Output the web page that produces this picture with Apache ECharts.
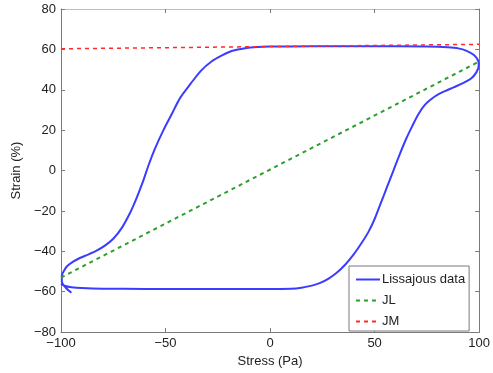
<!DOCTYPE html>
<html>
<head>
<meta charset="utf-8">
<script src="https://cdn.jsdelivr.net/npm/echarts@6/dist/echarts.min.js"></script>
<style>
  html, body { margin: 0; padding: 0; background: #fff; }
  #chart { width: 493px; height: 373px; }
</style>
</head>
<body>
<div id="chart"></div>
<script>
// stress (Pa), strain (%)
const lissajous = [
  [-95, -60.5], [-97.5, -58.3], [-99.6, -55], [-99.6, -52], [-98.5, -49.5], [-97, -47.3],
  [-94, -45], [-91, -43.3], [-87, -41.6], [-83, -39.7], [-79, -37.2], [-75, -33.8],
  [-71, -28.5], [-67, -21], [-64, -14], [-61, -6], [-58, 3], [-55, 11], [-51, 20],
  [-47, 28], [-43, 36], [-38, 43], [-33, 49.5], [-28, 54], [-23, 57], [-18, 59.3],
  [-12, 60.6], [-6, 61.2], [0, 61.4], [20, 61.5], [40, 61.5], [60, 61.5], [75, 61.4],
  [85, 61], [90, 60.5], [94, 59.3], [97.5, 57.2], [99.5, 54.5], [99.8, 52], [98.6, 48.5],
  [96, 45.5], [92, 43.2], [88, 41.3], [84, 39.5], [80, 37.5], [77, 35.3], [74, 32.5],
  [71, 28], [68, 22], [65, 15.5], [62, 8], [59, 0], [56, -8], [53, -16], [50, -24],
  [47, -30.5], [44, -35.5], [40, -41.5], [36, -46.5], [32, -50.5], [28, -53.5],
  [24, -55.6], [20, -57], [15, -58], [10, -58.5], [0, -58.7], [-20, -58.7], [-40, -58.7],
  [-60, -58.6], [-80, -58.5], [-90, -58.2], [-95, -57.8], [-98, -57.2], [-100, -56]
]
const jl = [[-100, -53], [100, 54]]
const jm = [[-100, 60.3], [100, 62.5]]

const xTicks = { min: -100, max: 100, interval: 50 }
const yTicks = { min: -80, max: 80, interval: 20 }

const font = 'Liberation Sans'
const frame = '#7a7a7a'

const chart = echarts.init(document.getElementById('chart'))

const tickIn = { show: true, inside: true, length: 4, lineStyle: { color: frame } }
const minus = v => String(v).replace('-', '\u2212')

chart.setOption({
  animation: false,
  grid: { left: 61, right: 8, top: 9, bottom: 38 },
  legend: {
    data: ['Lissajous data', 'JL', 'JM'],
    orient: 'vertical',
    left: 349,
    top: 266,
    width: 136,
    padding: [7, 4, 3, 6],
    itemGap: 8,
    itemWidth: 24,
    itemHeight: 14,
    itemStyle: { opacity: 0 },
    backgroundColor: '#fff',
    borderColor: frame,
    borderWidth: 1,
    textStyle: { fontFamily: font, fontSize: 13, color: '#222', padding: [0, 0, 0, -3] },
  },
  xAxis: [
    {
      type: 'value',
      ...xTicks,
      name: 'Stress (Pa)',
      nameLocation: 'middle',
      nameGap: 20,
      nameTextStyle: { fontFamily: font, fontSize: 13, color: '#222' },
      axisLine: { onZero: false, lineStyle: { color: frame } },
      axisTick: tickIn,
      axisLabel: { fontFamily: font, fontSize: 13, color: '#222', margin: 5, formatter: minus },
      splitLine: { show: false },
    },
    {
      type: 'value',
      position: 'top',
      ...xTicks,
      axisLine: { show: true, onZero: false, lineStyle: { color: '#bdbdbd' } },
      axisTick: tickIn,
      axisLabel: { show: false },
      splitLine: { show: false },
    },
  ],
  yAxis: [
    {
      type: 'value',
      ...yTicks,
      name: 'Strain (%)',
      nameLocation: 'middle',
      nameGap: 33,
      nameTextStyle: { fontFamily: font, fontSize: 13, color: '#222' },
      axisLine: { show: true, onZero: false, lineStyle: { color: frame } },
      axisTick: tickIn,
      axisLabel: { fontFamily: font, fontSize: 13, color: '#222', margin: 5, formatter: minus },
      splitLine: { show: false },
    },
    {
      type: 'value',
      position: 'right',
      ...yTicks,
      axisLine: { show: true, onZero: false, lineStyle: { color: frame } },
      axisTick: tickIn,
      axisLabel: { show: false },
      splitLine: { show: false },
    },
  ],
  series: [
    {
      name: 'Lissajous data',
      type: 'line',
      data: lissajous,
      symbol: 'none',
      smooth: 0.3,
      lineStyle: { color: '#3c3cff', width: 2 },
      itemStyle: { color: '#3c3cff' },
    },
    {
      name: 'JL',
      type: 'line',
      data: jl,
      symbol: 'none',
      lineStyle: { color: '#2e9e2e', width: 2, type: [4, 4] },
      itemStyle: { color: '#2e9e2e' },
    },
    {
      name: 'JM',
      type: 'line',
      data: jm,
      symbol: 'none',
      lineStyle: { color: '#ff2a2a', width: 1.5, type: [4, 4] },
      itemStyle: { color: '#ff2a2a' },
    },
  ],
})
</script>
</body>
</html>
